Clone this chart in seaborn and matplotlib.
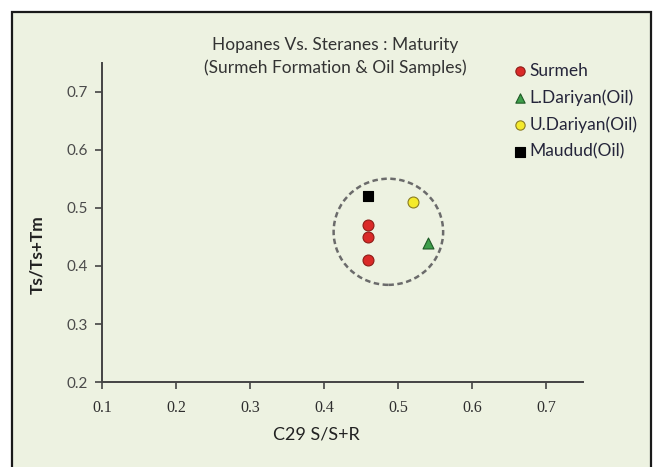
import matplotlib
matplotlib.use("Agg")
import matplotlib.pyplot as plt
import seaborn as sns
import pandas as pd
from matplotlib.patches import Rectangle, Ellipse

# Data
groups = ["Surmeh", "Surmeh", "Surmeh", "L.Dariyan(Oil)", "U.Dariyan(Oil)", "Maudud(Oil)"]
c29_ssr = [0.46, 0.46, 0.46, 0.54, 0.52, 0.46]
ts_tstm = [0.47, 0.45, 0.41, 0.44, 0.51, 0.52]
group_order = ["Surmeh", "L.Dariyan(Oil)", "U.Dariyan(Oil)", "Maudud(Oil)"]
x_ticks = [0.1, 0.2, 0.3, 0.4, 0.5, 0.6, 0.7]
y_ticks = [0.2, 0.3, 0.4, 0.5, 0.6, 0.7]

df = pd.DataFrame({"group": groups, "x": c29_ssr, "y": ts_tstm})

styles = {
    "Surmeh": dict(marker="o", color="#DA2A28", edge="#8E1C17", s=62),
    "L.Dariyan(Oil)": dict(marker="^", color="#3E9E4A", edge="#1F5A26", s=62),
    "U.Dariyan(Oil)": dict(marker="o", color="#F4EA2C", edge="#8A7C22", s=62),
    "Maudud(Oil)": dict(marker="s", color="#000000", edge="#000000", s=62),
}

sns.set_theme(style="white")
bg = "#EDF2E1"
fig = plt.figure(figsize=(6.57, 4.67), dpi=100)
fig.patch.set_facecolor("white")

# background frame
bax = fig.add_axes([0, 0, 1, 1], zorder=-5)
bax.set_axis_off()
bax.set_xlim(0, 1)
bax.set_ylim(0, 1)
bax.add_patch(Rectangle((12 / 657, -0.05), (651 - 12) / 657, 1 - 12 / 467 + 0.05,
                        facecolor=bg, edgecolor="#1a1a1a", linewidth=1.6, clip_on=False))

ax = fig.add_axes([102 / 657, 1 - 382 / 467, (583 - 102) / 657, (382 - 63) / 467], zorder=1)
ax.set_facecolor("none")

for g in group_order:
    st = styles[g]
    sub = df[df["group"] == g]
    sns.scatterplot(data=sub, x="x", y="y", ax=ax, marker=st["marker"], color=st["color"],
                    edgecolor=st["edge"], linewidth=0.8, s=st["s"], label=g, zorder=3)

ell = Ellipse((0.487, 0.459), width=0.148, height=0.183, fill=False,
              edgecolor="#6b6b6b", linestyle=(0, (2.2, 1.4)), linewidth=1.8, zorder=2)
ax.add_patch(ell)

ax.set_xlim(0.1, 0.75)
ax.set_ylim(0.2, 0.75)
ax.set_xticks(x_ticks)
ax.set_yticks(y_ticks)
ax.set_xticklabels([f"{v:.1f}" for v in x_ticks], fontfamily="Liberation Serif",
                   fontsize=11.5, color="#2e2e2e")
ax.set_yticklabels([f"{v:.1f}" for v in y_ticks], fontfamily="Lato",
                   fontsize=11, color="#4a4a4a")
ax.tick_params(axis="both", direction="out", length=5, width=1.2, color="#444444",
               bottom=True, left=True)
ax.tick_params(axis="x", pad=8)
ax.tick_params(axis="y", pad=5)
for sp in ["top", "right"]:
    ax.spines[sp].set_visible(False)
for sp in ["left", "bottom"]:
    ax.spines[sp].set_color("#444444")
    ax.spines[sp].set_linewidth(1.4)
ax.set_xlabel("")
ax.set_ylabel("")

fig.text(316 / 657, 1 - 435 / 467, "C29 S/S+R", ha="center", va="center",
         fontfamily="Lato", fontsize=13, color="#222222")
fig.text(37 / 657, 1 - 255 / 467, "Ts/Ts+Tm", ha="center", va="center", rotation=90,
         fontfamily="Lato", fontsize=12.5, fontweight="bold", color="#222222")
fig.text(335 / 657, 1 - 45 / 467, "Hopanes Vs. Steranes : Maturity", ha="center", va="center",
         fontfamily="Lato", fontsize=12.5, color="#333333")
fig.text(335 / 657, 1 - 68 / 467, "(Surmeh Formation & Oil Samples)", ha="center", va="center",
         fontfamily="Lato", fontsize=12.5, color="#333333")

leg = ax.legend(loc="upper left", bbox_to_anchor=(504 / 657, 1 - 56 / 467),
                bbox_transform=fig.transFigure, frameon=False, markerscale=0.85,
                handletextpad=0.05, labelspacing=0.6, borderaxespad=0,
                prop={"family": "Lato", "size": 12.5}, handlelength=1.0)
for t in leg.get_texts():
    t.set_color("#25253a")

fig.savefig("out.png", dpi=100, facecolor="white")
